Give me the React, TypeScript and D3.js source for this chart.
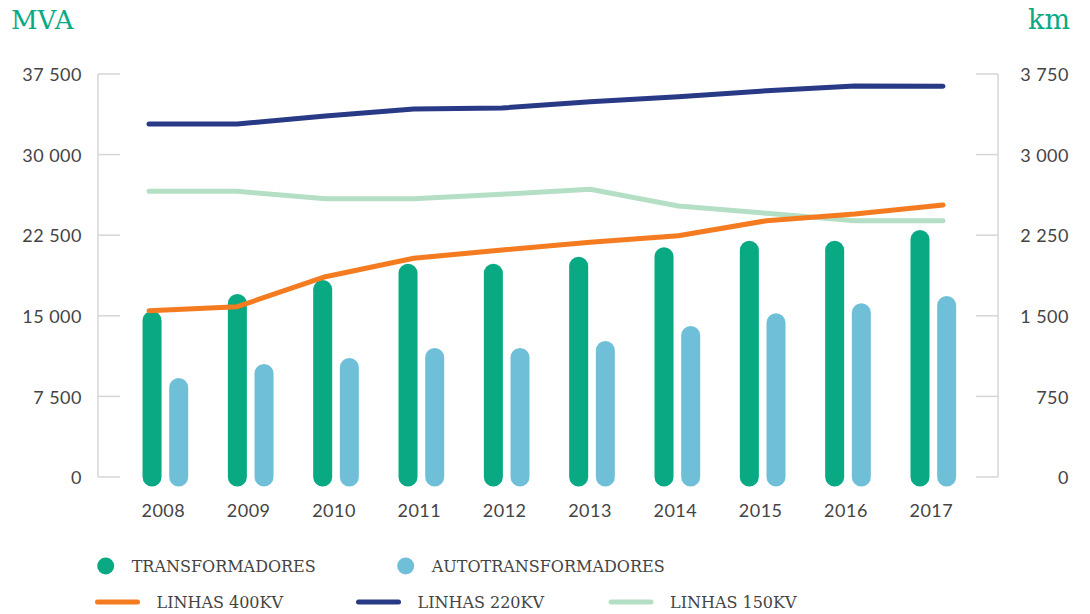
import React, { useEffect, useRef } from 'react';
import * as d3 from 'd3';

const years = ['2008', '2009', '2010', '2011', '2012', '2013', '2014', '2015', '2016', '2017'];
const transformadores = [14560, 16140, 17450, 18960, 18960, 19620, 20490, 21100, 21100, 22100];
const autotransformadores = [8330, 9630, 10190, 11120, 11120, 11770, 13170, 14350, 15280, 15960];
const linhas400 = [1547, 1585, 1864, 2035, 2112, 2184, 2245, 2385, 2447, 2531];
const linhas220 = [3285, 3285, 3359, 3424, 3434, 3492, 3539, 3594, 3638, 3635];
const linhas150 = [2658, 2658, 2590, 2590, 2631, 2677, 2522, 2454, 2385, 2385];
const mvaTicks = [0, 7500, 15000, 22500, 30000, 37500];
const kmTicks = [0, 750, 1500, 2250, 3000, 3750];

const GREEN = '#08a983';
const BLUE = '#6fbfd8';
const ORANGE = '#f47b20';
const NAVY = '#283a85';
const PALE = '#b5dfc5';
const AXIS = '#d6d6d6';
const TEXT = '#444';
const SANS = 'Lato, "Open Sans", sans-serif';
const SLAB = '"DejaVu Serif", serif';

const fmt = (v: number) => d3.format(',')(v).replace(/,/g, ' ');

function Chart() {
  const ref = useRef<SVGSVGElement>(null);

  useEffect(() => {
    const svg = d3.select(ref.current);
    svg.selectAll('*').remove();

    const yL = d3.scaleLinear().domain([0, 37500]).range([477, 74]);
    const yR = d3.scaleLinear().domain([0, 3750]).range([477, 74]);
    const xGroup = d3.scaleBand<string>().domain(years).range([122.7, 976]);
    const xSub = d3.scaleBand<string>().domain(['t', 'a'])
      .range([-xGroup.bandwidth() / 3.2, xGroup.bandwidth() / 3.2]);
    const xLine = d3.scalePoint<string>().domain(years).range([149, 943]);
    const gc = (y: string) => (xGroup(y) as number) + xGroup.bandwidth() / 2;
    const sc = (k: string) => (xSub(k) as number) + xSub.bandwidth() / 2;

    // titles
    svg.append('text').attr('x', 11).attr('y', 29).text('MVA')
      .style('font-family', SLAB).style('font-size', '26px').style('fill', GREEN);
    svg.append('text').attr('x', 1070).attr('y', 29).attr('text-anchor', 'end').text('km')
      .style('font-family', SLAB).style('font-size', '27px').style('fill', GREEN);

    // left axis
    const left = svg.append('g');
    left.append('line').attr('x1', 98).attr('x2', 98).attr('y1', yL(37500)).attr('y2', yL(0))
      .attr('stroke', AXIS).attr('stroke-width', 1.5);
    left.selectAll('line.t').data(mvaTicks).enter().append('line').attr('class', 't')
      .attr('x1', 98).attr('x2', 120).attr('y1', d => yL(d)).attr('y2', d => yL(d))
      .attr('stroke', AXIS).attr('stroke-width', 1.5);
    left.selectAll('text').data(mvaTicks).enter().append('text')
      .attr('x', 82).attr('y', d => yL(d)).attr('dy', '0.4em').attr('text-anchor', 'end')
      .text(d => fmt(d))
      .style('font-family', SANS).style('font-size', '18px').style('letter-spacing', '0.5px')
      .style('fill', TEXT);

    // right axis
    const right = svg.append('g');
    right.append('line').attr('x1', 998).attr('x2', 998).attr('y1', yR(3750)).attr('y2', yR(0))
      .attr('stroke', AXIS).attr('stroke-width', 1.5);
    right.selectAll('line.t').data(kmTicks).enter().append('line').attr('class', 't')
      .attr('x1', 976).attr('x2', 998).attr('y1', d => yR(d)).attr('y2', d => yR(d))
      .attr('stroke', AXIS).attr('stroke-width', 1.5);
    right.selectAll('text').data(kmTicks).enter().append('text')
      .attr('x', 1069).attr('y', d => yR(d)).attr('dy', '0.4em').attr('text-anchor', 'end')
      .text(d => fmt(d))
      .style('font-family', SANS).style('font-size', '18px').style('letter-spacing', '0.5px')
      .style('fill', TEXT);

    // bars as rounded strokes
    const bars = svg.append('g').attr('stroke-linecap', 'round').attr('stroke-width', 19);
    bars.selectAll('line.tr').data(years).enter().append('line').attr('class', 'tr')
      .attr('x1', d => gc(d) + sc('t')).attr('x2', d => gc(d) + sc('t'))
      .attr('y1', yL(0)).attr('y2', (d, i) => yL(transformadores[i]))
      .attr('stroke', GREEN);
    bars.selectAll('line.au').data(years).enter().append('line').attr('class', 'au')
      .attr('x1', d => gc(d) + sc('a')).attr('x2', d => gc(d) + sc('a'))
      .attr('y1', yL(0)).attr('y2', (d, i) => yL(autotransformadores[i]))
      .attr('stroke', BLUE);

    // year labels
    svg.append('g').selectAll('text').data(years).enter().append('text')
      .attr('x', d => gc(d) - 2).attr('y', 517).attr('text-anchor', 'middle').text(d => d)
      .style('font-family', SANS).style('font-size', '18px').style('letter-spacing', '0.5px')
      .style('fill', TEXT);

    // lines
    const line = d3.line<number>().x((d, i) => xLine(years[i]) as number).y(d => yR(d));
    const series: [number[], string][] = [[linhas150, PALE], [linhas220, NAVY], [linhas400, ORANGE]];
    series.forEach(([vals, col]) => {
      svg.append('path').attr('d', line(vals)).attr('fill', 'none').attr('stroke', col)
        .attr('stroke-width', 5).attr('stroke-linecap', 'round').attr('stroke-linejoin', 'round');
    });

    // legend
    const lg = svg.append('g').style('font-family', SLAB).style('font-size', '16px').style('fill', TEXT);
    const dots = [
      { label: 'TRANSFORMADORES', color: GREEN, x: 105.7 },
      { label: 'AUTOTRANSFORMADORES', color: BLUE, x: 405.7 },
    ];
    dots.forEach(d => {
      lg.append('circle').attr('cx', d.x).attr('cy', 566).attr('r', 8.5).attr('fill', d.color);
      lg.append('text').attr('x', d.x + 26).attr('y', 572).text(d.label);
    });
    const lns = [
      { label: 'LINHAS 400KV', color: ORANGE, x: 97.5 },
      { label: 'LINHAS 220KV', color: NAVY, x: 358.5 },
      { label: 'LINHAS 150KV', color: PALE, x: 611 },
    ];
    lns.forEach(d => {
      lg.append('line').attr('x1', d.x).attr('x2', d.x + 40).attr('y1', 602).attr('y2', 602)
        .attr('stroke', d.color).attr('stroke-width', 5).attr('stroke-linecap', 'round');
      lg.append('text').attr('x', d.x + 59).attr('y', 607.5).text(d.label);
    });
  }, []);

  return <svg ref={ref} width={1090} height={614} style={{ position: 'absolute', left: 0, top: 0 }} />;
}

export default function App() {
  return (
    <div className="chart-wrapp">
      <Chart />
    </div>
  );
}
